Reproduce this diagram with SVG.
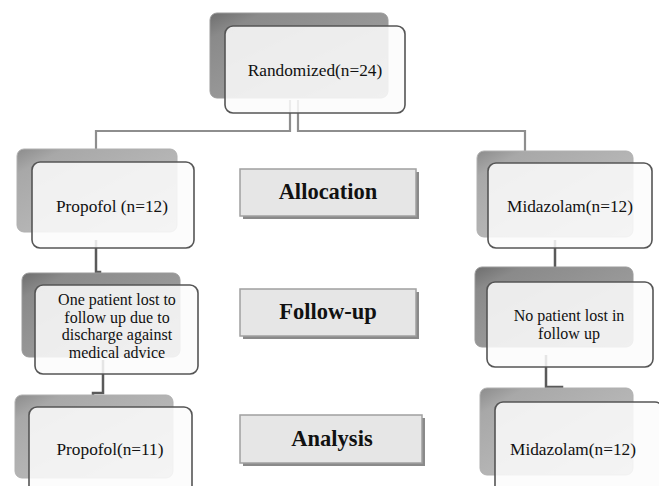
<svg xmlns="http://www.w3.org/2000/svg" width="659" height="486" viewBox="0 0 659 486">
<defs>
<linearGradient id="shd" x1="0" y1="0" x2="1" y2="1">
<stop offset="0" stop-color="#8c8c8c"/>
<stop offset="0.15" stop-color="#a8a8a8"/>
<stop offset="1" stop-color="#c4c4c4"/>
</linearGradient>
<linearGradient id="shdDark" x1="0" y1="0" x2="1" y2="1">
<stop offset="0" stop-color="#6e6e6e"/>
<stop offset="0.15" stop-color="#8a8a8a"/>
<stop offset="1" stop-color="#a8a8a8"/>
</linearGradient>
</defs>
<style>
.bg{fill:#ffffff}
.shadow{fill:url(#shd);stroke:#b0b0b0;stroke-width:1}
.shadowD{fill:url(#shdDark);stroke:#9a9a9a;stroke-width:1}
.front{fill:#fbfbfb;fill-opacity:0.86;stroke:#555;stroke-width:1.6}
.t{font-size:17.3px;fill:#111;text-anchor:middle}
.tm{font-size:16px;fill:#111;text-anchor:middle}
.lab{fill:#e6e6e6;stroke:#a0a0a0;stroke-width:1.5}
.labsh{fill:#8a8a8a}
.lt{font-size:22.5px;font-weight:bold;fill:#111;text-anchor:middle}
.c1{fill:none;stroke:#8e8e8e;stroke-width:2.2}
.c2{fill:none;stroke:#5a5a5a;stroke-width:2.5}
</style>
<rect class="bg" x="0" y="0" width="659" height="486"/>
<g id="connectors">
<path class="c1" d="M290 100 V131 H96 V152"/>
<path class="c1" d="M298 100 V131 H525 V152"/>
<path class="c2" d="M96 240 V272 H100 V285"/>
<path class="c2" d="M555 240 V272 H552 V283"/>
<path class="c2" d="M103 360 V393 H93 V408"/>
<path class="c2" d="M546 355 V387 H562 V403"/>
</g>
<g font-family="'Liberation Serif', 'Times New Roman', serif">
<g id="randomized">
<rect class="shadowD" x="210" y="13" width="178" height="85" rx="7"/>
<rect class="front" x="225" y="26" width="180" height="87" rx="8"/>
<text class="t" x="315" y="76">Randomized(n=24)</text>
</g>
<g id="propofol12">
<rect class="shadow" x="17" y="149" width="160" height="83" rx="7"/>
<rect class="front" x="32" y="162" width="162" height="86" rx="8"/>
<text class="t" x="112" y="212">Propofol (n=12)</text>
</g>
<g id="lost-one">
<rect class="shadowD" x="22" y="273" width="158" height="84" rx="7"/>
<rect class="front" x="35" y="285" width="163" height="89" rx="8"/>
<text class="tm" x="117" y="305">One patient lost to</text>
<text class="tm" x="117" y="322.5">follow up due to</text>
<text class="tm" x="117" y="340">discharge against</text>
<text class="tm" x="117" y="357.5">medical advice</text>
</g>
<g id="propofol11">
<rect class="shadow" x="15" y="395" width="158" height="83" rx="7"/>
<rect class="front" x="29" y="407" width="163" height="95" rx="8"/>
<text class="t" x="110" y="455">Propofol(n=11)</text>
</g>
<g id="midazolam12">
<rect class="shadow" x="477" y="151" width="156" height="86" rx="7"/>
<rect class="front" x="488" y="163" width="164" height="85" rx="8"/>
<text class="t" x="570" y="212">Midazolam(n=12)</text>
</g>
<g id="no-lost">
<rect class="shadowD" x="475" y="267" width="158" height="80" rx="7"/>
<rect class="front" x="487" y="282" width="166" height="85" rx="8"/>
<text class="tm" x="569" y="321">No patient lost in</text>
<text class="tm" x="569" y="339">follow up</text>
</g>
<g id="midazolam12b">
<rect class="shadow" x="480" y="388" width="153" height="87" rx="7"/>
<rect class="front" x="495" y="402" width="168" height="100" rx="8"/>
<text class="t" x="573" y="455">Midazolam(n=12)</text>
</g>
<g id="allocation">
<rect class="labsh" x="243" y="172" width="176" height="47"/>
<rect class="lab" x="240" y="169" width="176" height="47"/>
<text class="lt" x="328" y="199">Allocation</text>
</g>
<g id="follow-up">
<rect class="labsh" x="243" y="292" width="176" height="47"/>
<rect class="lab" x="240" y="289" width="176" height="47"/>
<text class="lt" x="328" y="319">Follow-up</text>
</g>
<g id="analysis">
<rect class="labsh" x="243" y="418" width="182" height="48"/>
<rect class="lab" x="240" y="415" width="182" height="48"/>
<text class="lt" x="332" y="446">Analysis</text>
</g>
</g>
</svg>
